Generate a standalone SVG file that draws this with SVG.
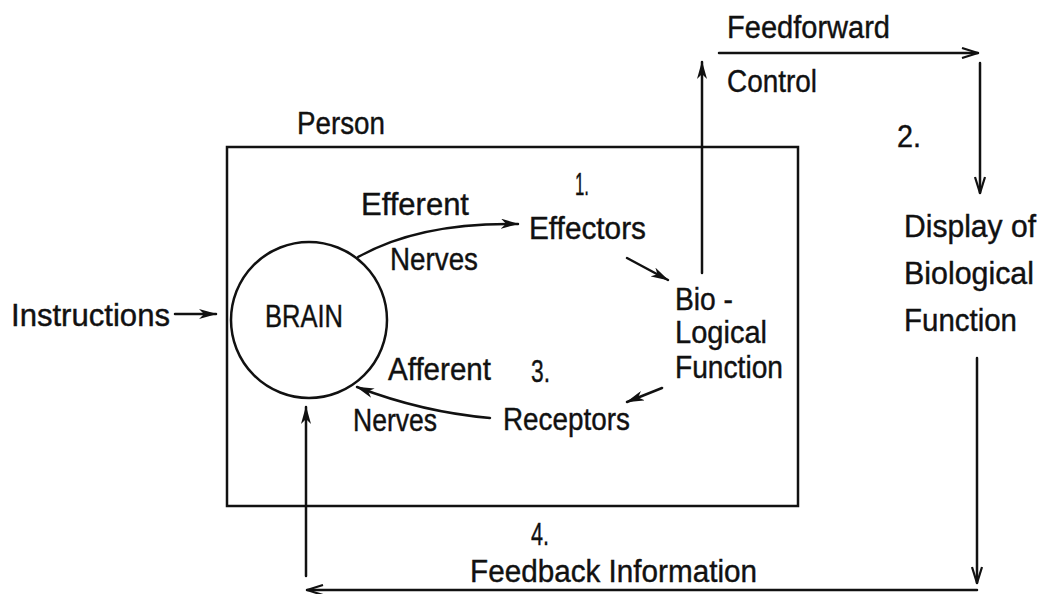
<svg xmlns="http://www.w3.org/2000/svg" width="1048" height="594" viewBox="0 0 1048 594">
<style>
text{font-family:"Liberation Sans",Arial,sans-serif;font-size:31px;fill:#111;stroke:#111;stroke-width:0.4}
.ln{fill:none;stroke:#111;stroke-width:2.5;stroke-linecap:round}
.open{marker-end:url(#open)}
.fill{marker-end:url(#barb)}
</style>
<defs>
<marker id="barb" markerUnits="userSpaceOnUse" viewBox="0 0 18 10" markerWidth="18" markerHeight="10" refX="17" refY="5" orient="auto">
<path d="M0,0 L18,5 L0,10 L5,5 Z" fill="#111"/>
</marker>
<marker id="open" markerUnits="userSpaceOnUse" viewBox="0 0 18 12" markerWidth="18" markerHeight="12" refX="17" refY="6" orient="auto">
<path d="M1,1 L17,6 L1,11" fill="none" stroke="#111" stroke-width="2.2"/>
</marker>
</defs>
<rect width="1048" height="594" fill="#fff"/>
<g id="person">
<rect x="227" y="147" width="571" height="359" fill="none" stroke="#111" stroke-width="2.5"/>
<text x="297" y="134" textLength="88" lengthAdjust="spacingAndGlyphs">Person</text>
</g>
<g id="brain">
<circle cx="309" cy="320" r="78" fill="none" stroke="#111" stroke-width="2.5"/>
<text x="265" y="327" textLength="78" lengthAdjust="spacingAndGlyphs">BRAIN</text>
</g>
<g id="instructions">
<text x="11" y="326" textLength="159" lengthAdjust="spacingAndGlyphs">Instructions</text>
</g>
<g id="effectors">
<text x="575" y="195" textLength="14" lengthAdjust="spacingAndGlyphs">1.</text>
<text x="529" y="239" textLength="117" lengthAdjust="spacingAndGlyphs">Effectors</text>
</g>
<g id="biological-function">
<text x="675" y="310" textLength="58" lengthAdjust="spacingAndGlyphs">Bio -</text>
<text x="675" y="343" textLength="92" lengthAdjust="spacingAndGlyphs">Logical</text>
<text x="675" y="378" textLength="108" lengthAdjust="spacingAndGlyphs">Function</text>
</g>
<g id="receptors">
<text x="531" y="382" textLength="19" lengthAdjust="spacingAndGlyphs">3.</text>
<text x="503" y="430" textLength="127" lengthAdjust="spacingAndGlyphs">Receptors</text>
</g>
<g id="display">
<text x="897" y="147" textLength="24" lengthAdjust="spacingAndGlyphs">2.</text>
<text x="904" y="237" textLength="132" lengthAdjust="spacingAndGlyphs">Display of</text>
<text x="904" y="284" textLength="130" lengthAdjust="spacingAndGlyphs">Biological</text>
<text x="904" y="331" textLength="113" lengthAdjust="spacingAndGlyphs">Function</text>
</g>
<g id="connectors">
<path class="ln fill" d="M175,314 L216,314"/>
<path class="ln fill" d="M358,257 Q420,222 518,224"/>
<path class="ln fill" d="M627,258 L668,280"/>
<path class="ln fill" d="M662,388 L627,402"/>
<path class="ln fill" d="M490,418 Q422,412 357,387"/>
<path class="ln fill" d="M702,273 L702,62"/>
<path class="ln open" d="M719,53 L978,53"/>
<path class="ln open" d="M980,63 L980,193"/>
<path class="ln open" d="M977,358 L977,583"/>
<path class="ln open" d="M977,590 L307,590"/>
<path class="ln fill" d="M306,576 L306,407"/>
</g>
<g id="connector-labels">
<text x="361" y="215" textLength="108" lengthAdjust="spacingAndGlyphs">Efferent</text>
<text x="390" y="270" textLength="88" lengthAdjust="spacingAndGlyphs">Nerves</text>
<text x="388" y="380" textLength="103" lengthAdjust="spacingAndGlyphs">Afferent</text>
<text x="353" y="431" textLength="84" lengthAdjust="spacingAndGlyphs">Nerves</text>
<text x="727" y="38" textLength="163" lengthAdjust="spacingAndGlyphs">Feedforward</text>
<text x="727" y="92" textLength="90" lengthAdjust="spacingAndGlyphs">Control</text>
<text x="531" y="545" textLength="18" lengthAdjust="spacingAndGlyphs">4.</text>
<text x="470" y="582" textLength="287" lengthAdjust="spacingAndGlyphs">Feedback Information</text>
</g>
</svg>
